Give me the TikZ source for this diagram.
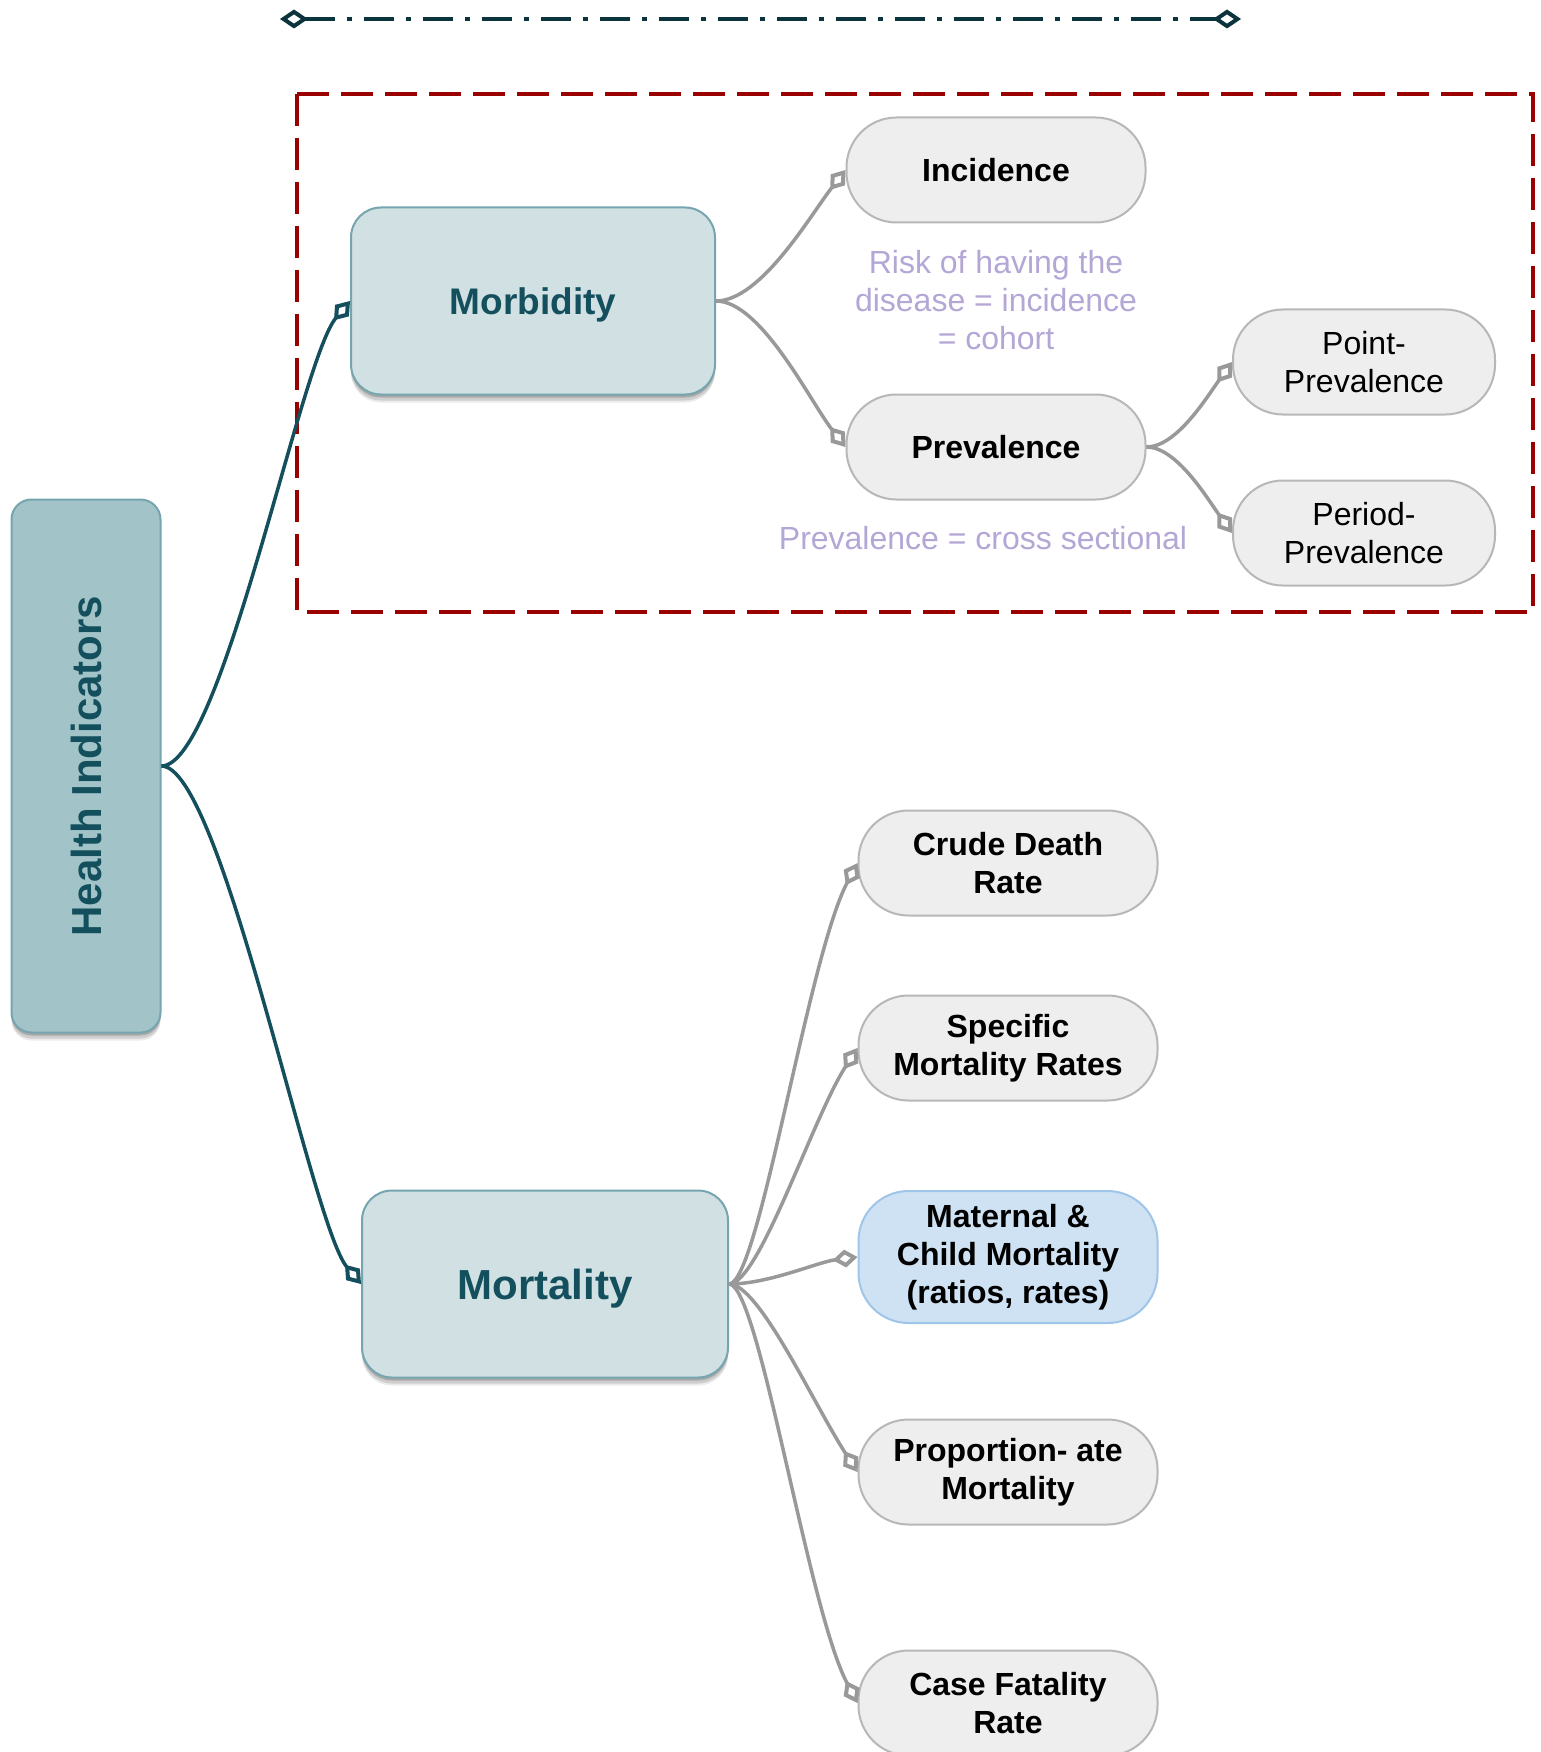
\documentclass[tikz,border=0pt]{standalone}
\usepackage{fontspec}
\usepackage{graphicx}
\setmainfont{Liberation Sans}
\usetikzlibrary{arrows.meta,shadows}

\definecolor{tealdark}{HTML}{134F5C}
\definecolor{rulecolor}{HTML}{0C343D}
\definecolor{hifill}{HTML}{A2C4C9}
\definecolor{boxedge}{HTML}{76A5AF}
\definecolor{catfill}{HTML}{D0E0E3}
\definecolor{leaffill}{HTML}{EEEEEE}
\definecolor{leafedge}{HTML}{B7B7B7}
\definecolor{bluefill}{HTML}{CFE2F3}
\definecolor{blueedge}{HTML}{9FC5E8}
\definecolor{notetext}{HTML}{B4A7D6}
\definecolor{framered}{HTML}{990000}
\definecolor{linkgray}{HTML}{999999}

\begin{document}
\begin{tikzpicture}[x=1pt,y=-1pt,
  % soft shadow built from a few faint layers
  softshadow/.style={
    drop shadow={shadow xshift=0pt, shadow yshift=-8pt, opacity=0.08, fill=black},
    drop shadow={shadow xshift=0pt, shadow yshift=-6pt, opacity=0.12, fill=black},
    drop shadow={shadow xshift=0pt, shadow yshift=-3pt, opacity=0.18, fill=black}},
  rootbox/.style={draw=boxedge, line width=2pt, fill=hifill, rounded corners=20pt,
    minimum width=149pt, minimum height=533pt, inner sep=0pt, text=tealdark,
    font=\bfseries\fontsize{42}{48}\selectfont, softshadow},
  catbox/.style={draw=boxedge, line width=2pt, fill=catfill, rounded corners=30pt,
    minimum height=187pt, inner sep=0pt, text=tealdark, text depth=0pt, softshadow},
  leafbox/.style={draw=leafedge, line width=2pt, fill=leaffill, rounded corners=50pt,
    minimum width=299pt, minimum height=105pt, inner sep=0pt, align=center,
    font=\bfseries\fontsize{32}{38}\selectfont},
  subleaf/.style={leafbox, minimum width=262pt, font=\fontsize{32}{38}\selectfont},
  bluebox/.style={leafbox, draw=blueedge, fill=bluefill, minimum height=132pt},
  note/.style={text=notetext, align=center, inner sep=0pt, font=\fontsize{32}{38}\selectfont},
  tipdiamond/.style={-{Diamond[open, length=25pt, width=18pt, line width=4pt]}},
  graylink/.style={draw=linkgray, line width=3.5pt, tipdiamond},
  teallink/.style={draw=tealdark, line width=3.5pt, tipdiamond},
  separator/.style={draw=rulecolor, line width=3.5pt,
    dash pattern=on 30pt off 12pt on 5pt off 12pt,
    {Diamond[open, length=28pt, width=19pt, line width=4pt]}-{Diamond[open, length=28pt, width=19pt, line width=4pt]}},
  framebox/.style={draw=framered, line width=4pt, dash pattern=on 32pt off 12pt}
]
\path[fill=white, use as bounding box] (0,0) rectangle (1540,1752);

% separator rule along the top
\coordinate (sepL) at (280,19);
\coordinate (sepR) at (1241,19);
\draw[separator] (sepL) -- (sepR);

% frame round the morbidity branch
\draw[framebox] (297,94) rectangle (1533,612);

% root
\node[rootbox] (hi) at (86,766) {\rotatebox{90}{Health Indicators}};

% categories
\node[catbox, minimum width=364pt, font=\bfseries\fontsize{37}{44}\selectfont] (morb) at (533,301) {Morbidity};
\node[catbox, minimum width=366pt, font=\bfseries\fontsize{42}{48}\selectfont] (mort) at (545,1284) {Mortality};

% morbidity branch
\node[leafbox] (inc) at (996,170) {Incidence};
\node[leafbox] (prev) at (996,447) {Prevalence};
\node[subleaf] (point) at (1364,362) {Point-\\Prevalence};
\node[subleaf] (period) at (1364,533) {Period-\\Prevalence};
\node[note] (risk) at (996,300) {Risk of having the\\disease = incidence\\= cohort};
\node[note] (cross) at (983,538) {Prevalence = cross sectional};

% mortality branch
\node[leafbox] (crude) at (1008,863) {Crude Death\\Rate};
\node[leafbox] (spec) at (1008,1048) {Specific\\Mortality Rates};
\node[bluebox] (mat) at (1008,1257) {Maternal \&\\Child Mortality\\(ratios, rates)};
\node[leafbox] (prop) at (1008,1472) {Proportion- ate\\Mortality};
\node[leafbox] (cfr) at (1008,1703) {Case Fatality\\Rate};

% connectors from the root
\draw[teallink] (hi.east) .. controls +(60,0) and +(-50,60) .. (morb.west);
\draw[teallink] (hi.east) .. controls +(60,0) and +(-50,-60) .. (mort.west);

% morbidity connectors
\draw[graylink] (morb.east) .. controls +(45,0) and +(-35,45) .. (inc.west);
\draw[graylink] (morb.east) .. controls +(45,0) and +(-35,-45) .. (prev.west);
\draw[graylink] (prev.east) .. controls +(30,0) and +(-25,35) .. (point.west);
\draw[graylink] (prev.east) .. controls +(30,0) and +(-25,-35) .. (period.west);

% mortality connectors
\draw[graylink] (mort.east) .. controls +(30,0) and +(-50,95) .. (crude.west);
\draw[graylink] (mort.east) .. controls +(30,0) and +(-45,70) .. (spec.west);
\draw[graylink] (mort.east) .. controls +(40,0) and +(-40,5) .. (mat.west);
\draw[graylink] (mort.east) .. controls +(30,0) and +(-45,-70) .. (prop.west);
\draw[graylink] (mort.east) .. controls +(30,0) and +(-50,-95) .. (cfr.west);
\end{tikzpicture}
\end{document}
